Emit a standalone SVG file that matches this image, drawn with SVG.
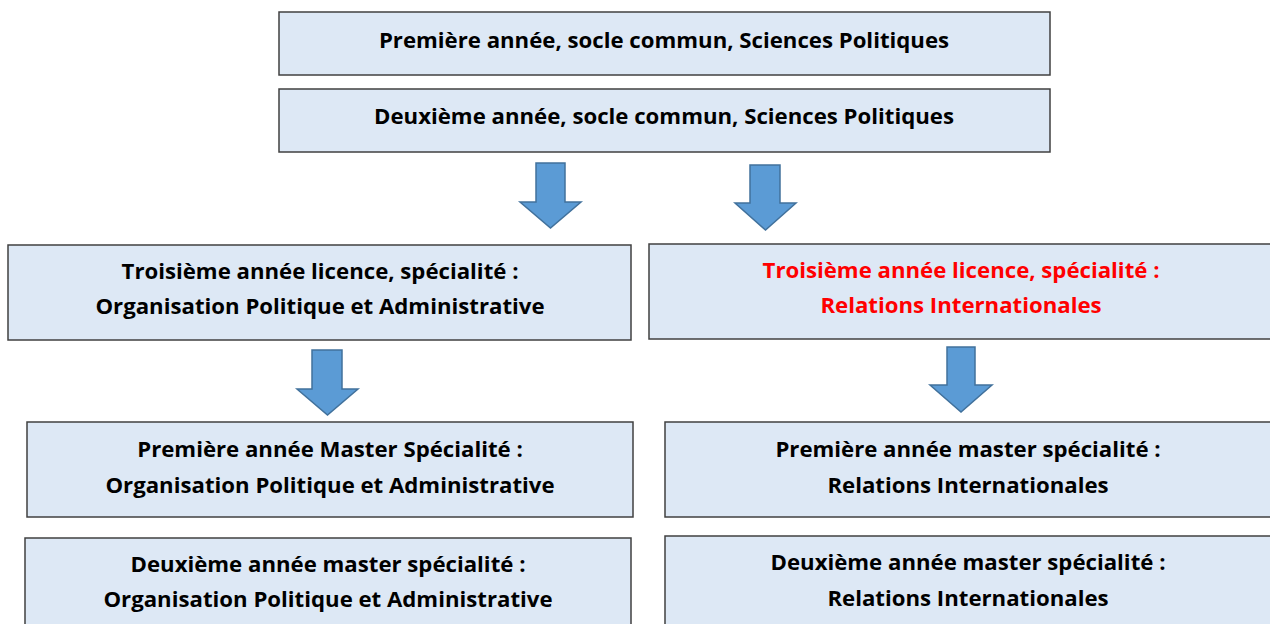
<svg xmlns="http://www.w3.org/2000/svg" width="1270" height="624" viewBox="0 0 1270 624">
<style>
.box{fill:#dde8f5;stroke:#404040;stroke-width:1.5}
.t{font-family:"Open Sans",Lato,sans-serif;font-weight:bold;font-size:22.2px;fill:#000;text-anchor:middle}
.red{fill:#ff0000}
.arr{fill:#5b9bd5;stroke:#41719c;stroke-width:1.5}
</style>
<rect width="1270" height="624" fill="#ffffff"/>
<g id="n1"><rect class="box" x="279" y="12" width="771" height="63"/><text class="t" x="664" y="48">Première année, socle commun, Sciences Politiques</text></g>
<g id="n2"><rect class="box" x="279" y="89" width="771" height="63"/><text class="t" x="664" y="124">Deuxième année, socle commun, Sciences Politiques</text></g>
<g id="n3"><rect class="box" x="8" y="245" width="623" height="95"/><text class="t" x="320" y="279">Troisième année licence, spécialité :</text><text class="t" x="320" y="314">Organisation Politique et Administrative</text></g>
<g id="n4"><rect class="box" x="649" y="244" width="624" height="95"/><text class="t red" x="961" y="278">Troisième année licence, spécialité :</text><text class="t red" x="961" y="313">Relations Internationales</text></g>
<g id="n5"><rect class="box" x="27" y="422" width="606" height="95"/><text class="t" x="330" y="457">Première année Master Spécialité :</text><text class="t" x="330" y="493">Organisation Politique et Administrative</text></g>
<g id="n6"><rect class="box" x="665" y="422" width="608" height="95"/><text class="t" x="968" y="457">Première année master spécialité :</text><text class="t" x="968" y="493">Relations Internationales</text></g>
<g id="n7"><rect class="box" x="25" y="538" width="606" height="95"/><text class="t" x="328" y="572">Deuxième année master spécialité :</text><text class="t" x="328" y="607">Organisation Politique et Administrative</text></g>
<g id="n8"><rect class="box" x="665" y="536" width="608" height="95"/><text class="t" x="968" y="570">Deuxième année master spécialité :</text><text class="t" x="968" y="606">Relations Internationales</text></g>
<g id="connectors">
<polygon class="arr" points="536,163 565,163 565,202 581,202 550.5,228 520,202 536,202"/>
<polygon class="arr" points="750,165 780,165 780,203 796,203 765.5,230 735,203 750,203"/>
<polygon class="arr" points="312,350 342,350 342,389 358,389 327.5,415 297,389 312,389"/>
<polygon class="arr" points="947,347 975,347 975,385 992,385 961,412 930,385 947,385"/>
</g>
</svg>
